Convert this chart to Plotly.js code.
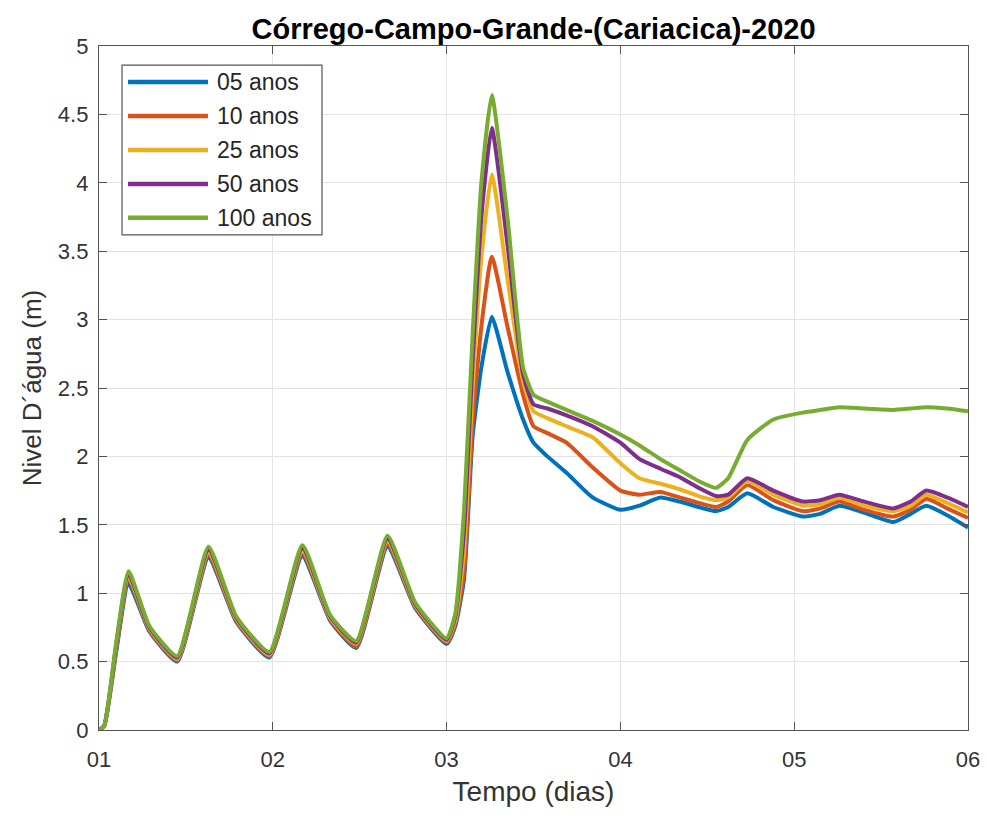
<!DOCTYPE html>
<html>
<head>
<meta charset="utf-8">
<script src="https://cdn.plot.ly/plotly-3.0.1.min.js"></script>
<style>
  html, body { margin: 0; padding: 0; background: #ffffff; }
  #chart { width: 987px; height: 819px; }
</style>
</head>
<body>
<div id="chart"></div>
<script>
// ---- Data ----
const chartTitle = 'Córrego-Campo-Grande-(Cariacica)-2020';
const xTitle = 'Tempo (dias)';
const yTitle = 'Nivel D´água (m)';

const xTickVals = [1, 2, 3, 4, 5, 6];
const xTickText = ['01', '02', '03', '04', '05', '06'];

const seriesNames = ['05 anos', '10 anos', '25 anos', '50 anos', '100 anos'];
const seriesColors = ['#0072BD', '#D95319', '#EDB120', '#7E2F8E', '#77AC30'];

// time in days
const tempo = [1.00, 1.03, 1.10, 1.17, 1.29, 1.45, 1.63, 1.79, 1.98, 2.17,
               2.33, 2.48, 2.66, 2.82, 3.00, 3.05, 3.10, 3.15, 3.20, 3.26,
               3.35, 3.44, 3.50, 3.58, 3.69, 3.84, 4.00, 4.11, 4.23, 4.34,
               4.45, 4.55, 4.62, 4.73, 4.88, 5.05, 5.15, 5.26, 5.40, 5.57,
               5.67, 5.76, 5.88, 6.00];

const nivel05 = [0.00, 0.03, 0.58, 1.07, 0.72, 0.50, 1.26, 0.79, 0.53, 1.27,
                 0.80, 0.60, 1.34, 0.89, 0.63, 0.76, 1.10, 2.15, 2.65, 3.02,
                 2.62, 2.27, 2.10, 2.00, 1.88, 1.70, 1.61, 1.64, 1.70, 1.67,
                 1.63, 1.60, 1.63, 1.73, 1.63, 1.56, 1.58, 1.64, 1.59, 1.52,
                 1.58, 1.64, 1.57, 1.48];

const nivel10 = [0.00, 0.03, 0.60, 1.10, 0.73, 0.51, 1.28, 0.80, 0.54, 1.29,
                 0.81, 0.61, 1.36, 0.90, 0.64, 0.78, 1.15, 2.25, 2.95, 3.46,
                 2.95, 2.45, 2.22, 2.17, 2.10, 1.92, 1.75, 1.72, 1.74, 1.70,
                 1.66, 1.63, 1.67, 1.79, 1.68, 1.60, 1.62, 1.67, 1.61, 1.56,
                 1.61, 1.69, 1.62, 1.55];

const nivel25 = [0.00, 0.03, 0.62, 1.12, 0.74, 0.52, 1.30, 0.81, 0.55, 1.31,
                 0.82, 0.63, 1.38, 0.91, 0.65, 0.80, 1.30, 2.50, 3.45, 4.06,
                 3.30, 2.55, 2.33, 2.28, 2.22, 2.14, 1.95, 1.84, 1.80, 1.76,
                 1.71, 1.68, 1.70, 1.82, 1.72, 1.64, 1.65, 1.70, 1.64, 1.60,
                 1.64, 1.72, 1.66, 1.59];

const nivel50 = [0.00, 0.03, 0.63, 1.14, 0.75, 0.53, 1.32, 0.82, 0.56, 1.33,
                 0.83, 0.64, 1.40, 0.92, 0.66, 0.83, 1.45, 2.70, 3.75, 4.40,
                 3.55, 2.60, 2.38, 2.35, 2.30, 2.22, 2.10, 1.98, 1.91, 1.85,
                 1.77, 1.71, 1.72, 1.84, 1.75, 1.67, 1.68, 1.72, 1.67, 1.62,
                 1.67, 1.75, 1.70, 1.63];

const nivel100 = [0.00, 0.03, 0.65, 1.16, 0.76, 0.54, 1.34, 0.83, 0.57, 1.35,
                  0.84, 0.65, 1.42, 0.93, 0.67, 0.85, 1.60, 2.90, 4.00, 4.64,
                  3.75, 2.65, 2.45, 2.40, 2.34, 2.26, 2.16, 2.08, 1.98, 1.90,
                  1.82, 1.77, 1.84, 2.12, 2.27, 2.32, 2.34, 2.36, 2.35, 2.34,
                  2.35, 2.36, 2.35, 2.33];

const seriesValues = [nivel05, nivel10, nivel25, nivel50, nivel100];

// ---- Build traces ----
const FONT = 'Liberation Sans, Arial, Helvetica, sans-serif';
const traces = seriesNames.map((name, i) => ({
  type: 'scatter',
  mode: 'lines',
  name: name,
  x: tempo,
  y: seriesValues[i],
  line: { color: seriesColors[i], width: 4, shape: 'spline', smoothing: 0.5 },
  showlegend: false,
  hoverinfo: 'x+y+name'
}));

// ---- Custom legend (MATLAB style, long line samples) ----
const legTop = 0.972, legBottom = 0.724, legLeft = 0.0265, legRight = 0.2566;
const rowStep = (legTop - legBottom) / seriesNames.length;
const shapes = [{
  type: 'rect', xref: 'paper', yref: 'paper',
  x0: legLeft, x1: legRight, y0: legBottom, y1: legTop,
  line: { color: '#555555', width: 1.2 }, fillcolor: '#ffffff', layer: 'above'
}];
const annotations = [];
seriesNames.forEach((name, i) => {
  const yc = legTop - rowStep * (i + 0.5);
  shapes.push({
    type: 'line', xref: 'paper', yref: 'paper',
    x0: 0.0334, x1: 0.1254, y0: yc, y1: yc,
    line: { color: seriesColors[i], width: 4.5 }, layer: 'above'
  });
  annotations.push({
    xref: 'paper', yref: 'paper', x: 0.1335, y: yc,
    xanchor: 'left', yanchor: 'middle', showarrow: false,
    text: name, font: { family: FONT, size: 23, color: '#262626' }
  });
});

const layout = {
  width: 987,
  height: 819,
  margin: { l: 99, r: 19, t: 46, b: 89, pad: 0 },
  paper_bgcolor: '#ffffff',
  plot_bgcolor: '#ffffff',
  font: { family: FONT, color: '#262626' },
  title: {
    text: chartTitle,
    x: 0.5, xref: 'paper', xanchor: 'center',
    y: 1 - 29 / 819, yref: 'container', yanchor: 'middle',
    font: { family: FONT, size: 29, weight: 'bold', color: '#000000' }
  },
  xaxis: {
    range: [1, 6],
    tickvals: xTickVals,
    ticktext: xTickText,
    ticks: 'inside', ticklen: 8, tickcolor: '#555555',
    ticklabelstandoff: 9,
    showline: true, linecolor: '#555555', linewidth: 1.2, mirror: 'ticks',
    showgrid: true, gridcolor: '#e3e3e3', gridwidth: 1,
    zeroline: false,
    tickfont: { family: FONT, size: 22, color: '#333333' },
    title: { text: xTitle, font: { family: FONT, size: 28, color: '#333333' }, standoff: 10 }
  },
  yaxis: {
    range: [0, 5],
    dtick: 0.5,
    ticks: 'inside', ticklen: 8, tickcolor: '#555555',
    ticklabelstandoff: 5,
    showline: true, linecolor: '#555555', linewidth: 1.2, mirror: 'ticks',
    showgrid: true, gridcolor: '#e3e3e3', gridwidth: 1,
    zeroline: false,
    tickfont: { family: FONT, size: 22, color: '#333333' },
    title: { text: yTitle, font: { family: FONT, size: 26, color: '#333333' }, standoff: 8 }
  },
  shapes: shapes,
  annotations: annotations,
  showlegend: false
};

Plotly.newPlot('chart', traces, layout, { displayModeBar: false, staticPlot: true });
</script>
</body>
</html>
